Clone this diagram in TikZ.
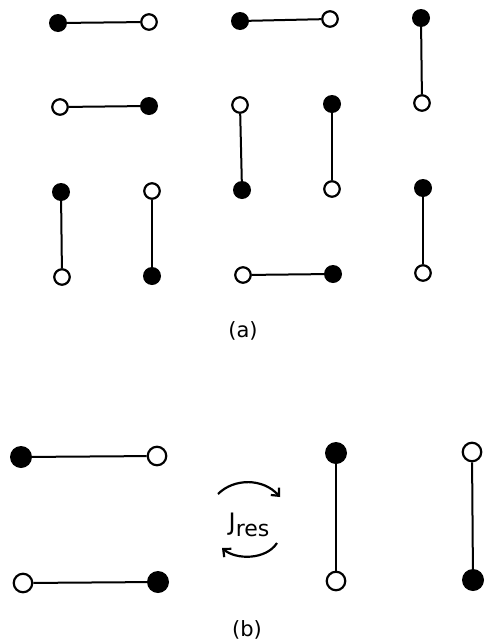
\documentclass[tikz,border=0pt]{standalone}
\usepackage{fontspec}
\setmainfont{DejaVu Sans}
\usetikzlibrary{arrows.meta}
\begin{document}
\begin{tikzpicture}[x=1pt,y=-1pt,
  fdot/.style={circle,fill=black,inner sep=0pt,minimum size=18pt},
  odot/.style={circle,draw=black,line width=2.2pt,fill=white,inner sep=0pt,minimum size=15.5pt},
  fbig/.style={circle,fill=black,inner sep=0pt,minimum size=22pt},
  obig/.style={circle,draw=black,line width=2.2pt,fill=white,inner sep=0pt,minimum size=18.5pt},
  bond/.style={line width=2pt},
  swap/.style={line width=2.2pt,-{Straight Barb[length=6pt,width=11pt,line width=2.2pt]}},
  lbl/.style={font=\fontsize{21}{23}\selectfont,inner sep=0pt}]
\useasboundingbox (0,0) rectangle (486,643);
% (a)
\node[fdot] (a1) at (58,23) {};
\node[odot] (a2) at (149,22) {};
\node[fdot] (a3) at (240,21) {};
\node[odot] (a4) at (330,19) {};
\node[fdot] (a5) at (421,18) {};
\node[odot] (b1) at (60,107) {};
\node[fdot] (b2) at (149,106) {};
\node[odot] (b3) at (240,105) {};
\node[fdot] (b4) at (332,104) {};
\node[odot] (b5) at (422,103) {};
\node[fdot] (c1) at (61,192) {};
\node[odot] (c2) at (152,191) {};
\node[fdot] (c3) at (242,190) {};
\node[odot] (c4) at (332,189) {};
\node[fdot] (c5) at (423,188) {};
\node[odot] (d1) at (62,277) {};
\node[fdot] (d2) at (152,276) {};
\node[odot] (d3) at (243,275) {};
\node[fdot] (d4) at (333,274) {};
\node[odot] (d5) at (423,273) {};
\draw[bond] (a1) -- (a2);
\draw[bond] (a3) -- (a4);
\draw[bond] (a5) -- (b5);
\draw[bond] (b1) -- (b2);
\draw[bond] (b3) -- (c3);
\draw[bond] (b4) -- (c4);
\draw[bond] (c1) -- (d1);
\draw[bond] (c2) -- (d2);
\draw[bond] (d3) -- (d4);
\draw[bond] (c5) -- (d5);
\node[lbl] (la) at (243,331) {(a)};
% (b)
\node[fbig] (p1) at (21,457) {};
\node[obig] (p2) at (157,456) {};
\node[obig] (p3) at (23,583) {};
\node[fbig] (p4) at (158,582) {};
\node[fbig] (q1) at (336,453) {};
\node[obig] (q2) at (336,581) {};
\node[obig] (q3) at (472,452) {};
\node[fbig] (q4) at (473,580) {};
\draw[bond] (p1) -- (p2);
\draw[bond] (p3) -- (p4);
\draw[bond] (q1) -- (q2);
\draw[bond] (q3) -- (q4);
\node[inner sep=0pt] (J) at (249,525) {\fontsize{24}{26}\selectfont J\raisebox{-6pt}{\fontsize{22}{24}\selectfont res}};
\coordinate (t1) at (218,494);
\coordinate (t2) at (280,497);
\coordinate (u1) at (277,543);
\coordinate (u2) at (222,548);
\draw[swap] (t1) .. controls (234,478) and (263,478) .. (t2);
\draw[swap] (u1) .. controls (266,560) and (236,560) .. (u2);
\node[lbl] (lb) at (247,630) {(b)};
\end{tikzpicture}
\end{document}
